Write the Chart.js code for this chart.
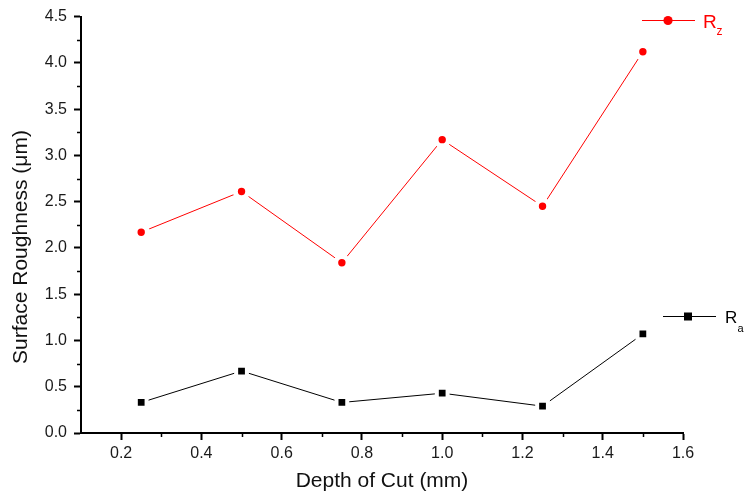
<!DOCTYPE html>
<html>
<head>
<meta charset="utf-8">
<script src="https://cdn.jsdelivr.net/npm/chart.js@4/dist/chart.umd.min.js"></script>
<style>
html,body{margin:0;padding:0;background:#fff;}
canvas{display:block;}
</style>
</head>
<body>
<canvas id="c" width="745" height="497"></canvas>
<script>
const depth = [0.25, 0.5, 0.75, 1.0, 1.25, 1.5];
const rzValues = [2.17, 2.61, 1.84, 3.17, 2.45, 4.12];
const raValues = [0.33, 0.67, 0.33, 0.43, 0.29, 1.07];
const xTicks = [0.2, 0.4, 0.6, 0.8, 1.0, 1.2, 1.4, 1.6];
const xMinorTicks = [0.3, 0.5, 0.7, 0.9, 1.1, 1.3, 1.5];
const yTicks = [0, 0.5, 1.0, 1.5, 2.0, 2.5, 3.0, 3.5, 4.0, 4.5];
const yMinorTicks = [0.25, 0.75, 1.25, 1.75, 2.25, 2.75, 3.25, 3.75, 4.25];
const xTitle = 'Depth of Cut (mm)';
const yTitle = 'Surface Roughness (\u03BCm)';

const FONT = "'Liberation Sans', Arial, sans-serif";

const extrasPlugin = {
  id: 'extras',
  afterDraw(chart) {
    const ctx = chart.ctx;
    const xs = chart.scales.x, ys = chart.scales.y;
    const area = chart.chartArea;
    ctx.save();
    // minor ticks
    ctx.strokeStyle = '#000';
    ctx.lineWidth = 1.5;
    ctx.beginPath();
    xMinorTicks.forEach(v => {
      const px = Math.round(xs.getPixelForValue(v)) + 0.5;
      ctx.moveTo(px, area.bottom);
      ctx.lineTo(px, area.bottom + 4);
    });
    yMinorTicks.forEach(v => {
      const py = Math.round(ys.getPixelForValue(v)) + 0.5;
      ctx.moveTo(area.left, py);
      ctx.lineTo(area.left - 4, py);
    });
    ctx.stroke();

    // y title
    ctx.save();
    ctx.translate(21, 247);
    ctx.rotate(-Math.PI / 2);
    ctx.font = '21px ' + FONT;
    ctx.fillStyle = '#111';
    ctx.textAlign = 'center';
    ctx.textBaseline = 'middle';
    ctx.fillText(yTitle, 0, 0);
    ctx.restore();

    // legend Rz
    const ds0 = chart.data.datasets[0], ds1 = chart.data.datasets[1];
    ctx.strokeStyle = ds0.borderColor;
    ctx.lineWidth = 1;
    ctx.beginPath();
    ctx.moveTo(642, 20.5); ctx.lineTo(695, 20.5);
    ctx.stroke();
    ctx.fillStyle = ds0.backgroundColor;
    ctx.beginPath();
    ctx.arc(668, 20.5, 4.6, 0, Math.PI * 2);
    ctx.fill();
    ctx.font = '19px ' + FONT;
    ctx.textAlign = 'left';
    ctx.textBaseline = 'alphabetic';
    ctx.fillText('R', 703, 28);
    ctx.font = '12px ' + FONT;
    ctx.fillText('z', 716.5, 34.5);

    // legend Ra
    ctx.strokeStyle = ds1.borderColor;
    ctx.beginPath();
    ctx.moveTo(663, 316.5); ctx.lineTo(716, 316.5);
    ctx.stroke();
    ctx.fillStyle = ds1.backgroundColor;
    ctx.fillRect(684, 312.5, 8, 8);
    ctx.font = '17px ' + FONT;
    ctx.fillText('R', 725, 323);
    ctx.font = '11px ' + FONT;
    ctx.fillText('a', 737.5, 332);
    ctx.restore();
  }
};

new Chart(document.getElementById('c'), {
  type: 'line',
  data: {
    datasets: [
      {
        label: 'Rz',
        data: depth.map((x, i) => ({x: x, y: rzValues[i]})),
        borderColor: '#ff0000',
        backgroundColor: '#ff0000',
        borderWidth: 1,
        pointStyle: 'circle',
        pointRadius: 6.2,
        pointBorderWidth: 5,
        pointBorderColor: '#ffffff',
        pointBackgroundColor: '#ff0000',
        tension: 0
      },
      {
        label: 'Ra',
        data: depth.map((x, i) => ({x: x, y: raValues[i]})),
        borderColor: '#000000',
        backgroundColor: '#000000',
        borderWidth: 1,
        pointStyle: 'rect',
        pointRadius: 7.6,
        pointBorderWidth: 4,
        pointBorderColor: '#ffffff',
        pointBackgroundColor: '#000000',
        tension: 0
      }
    ]
  },
  options: {
    responsive: false,
    animation: false,
    events: [],
    layout: { padding: { top: 16, right: 62, left: 0, bottom: 0 } },
    plugins: { legend: { display: false }, tooltip: { enabled: false } },
    scales: {
      x: {
        type: 'linear',
        min: 0.1,
        max: 1.6,
        afterFit(s) { s.height = 64; },
        afterBuildTicks(s) { s.ticks = xTicks.map(v => ({value: v})); },
        ticks: {
          color: '#1a1a1a',
          font: { family: FONT, size: 16 },
          padding: 4,
          maxRotation: 0,
          autoSkip: false,
          callback: v => Number(v).toFixed(1)
        },
        grid: { display: true, drawOnChartArea: false, drawTicks: true, tickLength: 7, tickWidth: 2, tickColor: '#000' },
        border: { display: true, color: '#000', width: 2 },
        title: { display: true, text: xTitle, color: '#111', font: { family: FONT, size: 21 }, padding: { top: 0, bottom: 3 } }
      },
      y: {
        type: 'linear',
        min: 0,
        max: 4.5,
        afterFit(s) { s.width = 81; },
        afterBuildTicks(s) { s.ticks = yTicks.map(v => ({value: v})); },
        ticks: {
          color: '#1a1a1a',
          font: { family: FONT, size: 16 },
          padding: 7,
          autoSkip: false,
          callback: v => Number(v).toFixed(1)
        },
        grid: { display: true, drawOnChartArea: false, drawTicks: true, tickLength: 7, tickWidth: 2, tickColor: '#000' },
        border: { display: true, color: '#000', width: 2 }
      }
    }
  },
  plugins: [extrasPlugin]
});
</script>
</body>
</html>
